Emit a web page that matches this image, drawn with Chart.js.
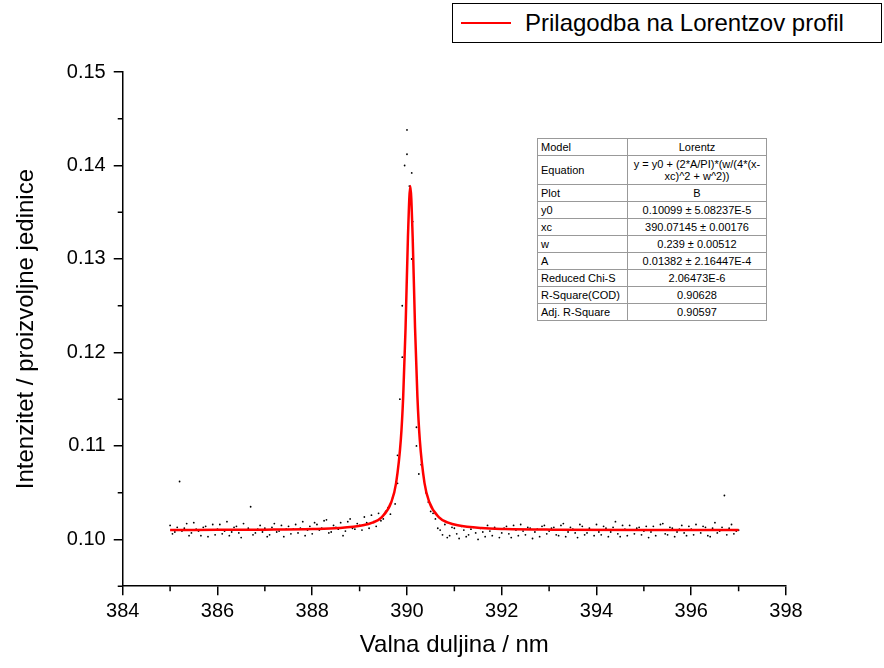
<!DOCTYPE html>
<html>
<head>
<meta charset="utf-8">
<script src="https://cdn.jsdelivr.net/npm/chart.js@4"></script>
<style>
  body { margin: 0; background: #fff; font-family: "Liberation Sans", Arial, sans-serif; }
  #wrap { position: relative; width: 884px; height: 668px; }
  #legend { position: absolute; left: 452px; top: 3px; width: 428px; height: 38px; border: 1px solid #000; background: #fff; }
  #legend .line { position: absolute; left: 8px; top: 18px; width: 50px; height: 2px; background: #f00; }
  #legend .txt { position: absolute; left: 72px; top: 5px; font-size: 24px; }
  #stats { position: absolute; left: 537px; top: 138px; border-collapse: collapse; font-size: 11px; background: #fff; }
  #stats td { border: 1px solid #999; padding: 0 3px; height: 16px; line-height: 12px; }
  #stats td.v { text-align: center; width: 132px; }
  #stats td.k { width: 83px; }
</style>
</head>
<body>
<div id="wrap">
  <canvas id="chart" width="884" height="668"></canvas>
  <div id="legend"><div class="line"></div><div class="txt">Prilagodba na Lorentzov profil</div></div>
  <table id="stats">
    <tr><td class="k">Model</td><td class="v">Lorentz</td></tr>
    <tr><td class="k" style="height:28px">Equation</td><td class="v">y = y0 + (2*A/PI)*(w/(4*(x-xc)^2 + w^2))</td></tr>
    <tr><td class="k">Plot</td><td class="v">B</td></tr>
    <tr><td class="k">y0</td><td class="v">0.10099 ± 5.08237E-5</td></tr>
    <tr><td class="k">xc</td><td class="v">390.07145 ± 0.00176</td></tr>
    <tr><td class="k">w</td><td class="v">0.239 ± 0.00512</td></tr>
    <tr><td class="k">A</td><td class="v">0.01382 ± 2.16447E-4</td></tr>
    <tr><td class="k">Reduced Chi-S</td><td class="v">2.06473E-6</td></tr>
    <tr><td class="k">R-Square(COD)</td><td class="v">0.90628</td></tr>
    <tr><td class="k">Adj. R-Square</td><td class="v">0.90597</td></tr>
  </table>
</div>
<script>
const dotX = [
  385.0,385.1,385.2,385.3,385.4,385.5,385.6,385.7,385.8,385.9,
  386.0,386.1,386.2,386.3,386.4,386.5,386.6,386.7,386.8,386.9,
  387.0,387.1,387.2,387.3,387.4,387.5,387.6,387.7,387.8,387.9,
  388.0,388.1,388.2,388.3,388.4,388.5,388.6,388.7,388.8,388.9,
  389.0,389.1,389.2,389.3,389.4,389.5,389.6,389.7,389.8,389.9,
  390.0,390.1,390.2,390.3,390.4,390.5,390.6,390.7,390.8,390.9,
  391.0,391.1,391.2,391.3,391.4,391.5,391.6,391.7,391.8,391.9,
  392.0,392.1,392.2,392.3,392.4,392.5,392.6,392.7,392.8,392.9,
  393.0,393.1,393.2,393.3,393.4,393.5,393.6,393.7,393.8,393.9,
  394.0,394.1,394.2,394.3,394.4,394.5,394.6,394.7,394.8,394.9,
  395.0,395.1,395.2,395.3,395.4,395.5,395.6,395.7,395.8,395.9,
  396.0,396.1,396.2,396.3,396.4,396.5,396.6,396.7,396.8,396.9,
  397.0
];
const dotY = [
  .1015,.1008,.1062,.1012,.1004,.1018,.1009,.1013,.1003,.1016,
  .1011,.1006,.1019,.1008,.1014,.1002,.1010,.1035,.1007,.1015,
  .1012,.1005,.1017,.1009,.1003,.1014,.1011,.1007,.1019,.1010,
  .1006,.1016,.1012,.1021,.1008,.1013,.1018,.1009,.1022,.1011,
  .1015,.1024,.1012,.1019,.1028,.1022,.1034,.1045,.1060,.1195,
  .1438,.1300,.1120,.1080,.1050,.1030,.1022,.1010,.1016,.1004,
  .1012,.1001,.1010,.1005,.1013,.1000,.1008,.1015,.1004,.1011,
  .1007,.1014,.1002,.1010,.1016,.1005,.1012,.1008,.1003,.1015,
  .1009,.1013,.1004,.1017,.1008,.1011,.1002,.1014,.1007,.1010,
  .1016,.1005,.1012,.1008,.1019,.1003,.1011,.1015,.1006,.1013,
  .1009,.1002,.1014,.1010,.1017,.1005,.1012,.1008,.1015,.1004,
  .1011,.1016,.1007,.1013,.1003,.1018,.1009,.1047,.1012,.1006,
  .1010
];
const dotX2 = [
  385.05,385.15,385.25,385.35,385.45,385.55,385.65,385.75,385.85,385.95,
  386.05,386.15,386.25,386.35,386.45,386.55,386.65,386.75,386.85,386.95,
  387.05,387.15,387.25,387.35,387.45,387.55,387.65,387.75,387.85,387.95,
  388.05,388.15,388.25,388.35,388.45,388.55,388.65,388.75,388.85,388.95,
  389.05,389.15,389.25,389.35,389.45,389.55,389.65,389.75,
  390.45,390.55,390.65,390.75,390.85,390.95,
  391.05,391.15,391.25,391.35,391.45,391.55,391.65,391.75,391.85,391.95,
  392.05,392.15,392.25,392.35,392.45,392.55,392.65,392.75,392.85,392.95,
  393.05,393.15,393.25,393.35,393.45,393.55,393.65,393.75,393.85,393.95,
  394.05,394.15,394.25,394.35,394.45,394.55,394.65,394.75,394.85,394.95,
  395.05,395.15,395.25,395.35,395.45,395.55,395.65,395.75,395.85,395.95,
  396.05,396.15,396.25,396.35,396.45,396.55,396.65,396.75,396.85,396.95
];
const dotY2 = [
  .1006,.1013,.1009,.1017,.1007,.1011,.1004,.1014,.1010,.1005,
  .1016,.1009,.1004,.1013,.1007,.1017,.1012,.1005,.1011,.1008,
  .1003,.1013,.1008,.1015,.1011,.1006,.1016,.1012,.1004,.1014,
  .1018,.1010,.1020,.1007,.1015,.1011,.1004,.1019,.1012,.1017,
  .1010,.1018,.1026,.1014,.1020,.1030,.1027,.1038,
  .1040,.1028,.1012,.1005,.1002,.1013,
  .1006,.1014,.1003,.1011,.1007,.1012,.1003,.1009,.1013,.1002,
  .1012,.1006,.1015,.1004,.1009,.1013,.1001,.1011,.1014,.1006,
  .1012,.1005,.1015,.1003,.1013,.1007,.1016,.1005,.1012,.1004,
  .1008,.1014,.1003,.1013,.1006,.1015,.1004,.1010,.1012,.1005,
  .1014,.1008,.1004,.1016,.1006,.1013,.1003,.1011,.1007,.1014,
  .1005,.1010,.1014,.1004,.1012,.1007,.1013,.1005,.1016,.1009
];
const peakX = [389.8, 389.85, 389.9, 389.95, 390.0, 390.05, 390.1, 390.12, 390.15, 390.2, 390.25];
const peakY = [0.1090, 0.1150, 0.1250, 0.1400, 0.1412, 0.1378, 0.1392, 0.1340, 0.1260, 0.1100, 0.1070];

// fitted curve
const fitX = [385, 386, 387, 388, 388.57, 389.07, 389.27, 389.47, 389.67, 389.77, 389.87, 389.92, 389.97, 390.02,
  390.07, 390.12, 390.17, 390.22, 390.27, 390.37, 390.47, 390.67, 390.87, 391.07, 391.57, 392.07, 393.07, 395.07, 397];
const fitY = [0.10101, 0.10103, 0.10105, 0.10111, 0.10122, 0.10151, 0.10179, 0.10239, 0.10401, 0.10603, 0.11067, 0.11528, 0.12264, 0.13232,
  0.13780, 0.13232, 0.12264, 0.11528, 0.11067, 0.10603, 0.10401, 0.10239, 0.10179, 0.10151, 0.10122, 0.10112, 0.10105, 0.10101, 0.10101];

const xMajor = [384, 386, 388, 390, 392, 394, 396, 398];
const xMinor = [385, 387, 389, 391, 393, 395, 397];
const yMajor = [0.10, 0.11, 0.12, 0.13, 0.14, 0.15];
const yMinor = [0.095, 0.105, 0.115, 0.125, 0.135, 0.145];

const toPts = (xs, ys) => xs.map((x, i) => ({ x: x, y: ys[i] }));

const minorTicks = {
  id: "minorTicks",
  afterDraw(chart) {
    const ctx = chart.ctx, xs = chart.scales.x, ys = chart.scales.y;
    ctx.save();
    ctx.strokeStyle = "#000";
    ctx.lineWidth = 1.5;
    ctx.beginPath();
    xMinor.forEach(v => { const p = xs.getPixelForValue(v); ctx.moveTo(p, xs.top); ctx.lineTo(p, xs.top + 5); });
    yMinor.forEach(v => { const p = ys.getPixelForValue(v); ctx.moveTo(ys.right, p); ctx.lineTo(ys.right - 5, p); });
    ctx.stroke();
    ctx.restore();
  }
};

const font = { family: "'Liberation Sans', Arial, sans-serif" };

new Chart(document.getElementById("chart"), {
  type: "scatter",
  data: {
    datasets: [
      { data: toPts(dotX, dotY).concat(toPts(dotX2, dotY2), toPts(peakX, peakY)), pointRadius: 0.9, backgroundColor: "#000", borderWidth: 0, order: 2 },
      { type: "line", data: toPts(fitX, fitY), borderColor: "#f00", borderWidth: 2.5, pointRadius: 0, cubicInterpolationMode: "monotone", order: 1 }
    ]
  },
  options: {
    responsive: false,
    animation: false,
    layout: { padding: { top: 72, right: 98, left: 8, bottom: 4 } },
    plugins: { legend: { display: false }, tooltip: { enabled: false } },
    scales: {
      x: {
        type: "linear", min: 384, max: 398,
        afterBuildTicks: s => { s.ticks = xMajor.map(v => ({ value: v })); },
        ticks: { color: "#000", font: { ...font, size: 20 }, padding: 4 },
        grid: { drawOnChartArea: false, color: "#000", tickLength: 9, lineWidth: 1.5 },
        border: { color: "#000", width: 1.5 },
        title: { display: true, text: "Valna duljina / nm", color: "#000", font: { ...font, size: 24 } }
      },
      y: {
        min: 0.095, max: 0.15,
        afterBuildTicks: s => { s.ticks = yMajor.map(v => ({ value: v })); },
        ticks: { color: "#000", font: { ...font, size: 20 }, padding: 8, callback: v => v.toFixed(2) },
        grid: { drawOnChartArea: false, color: "#000", tickLength: 9, lineWidth: 1.5 },
        border: { color: "#000", width: 1.5 },
        title: { display: true, text: "Intenzitet / proizvoljne jedinice", color: "#000", font: { ...font, size: 24 }, padding: { bottom: 18 } }
      }
    }
  },
  plugins: [minorTicks]
});
</script>
</body>
</html>
